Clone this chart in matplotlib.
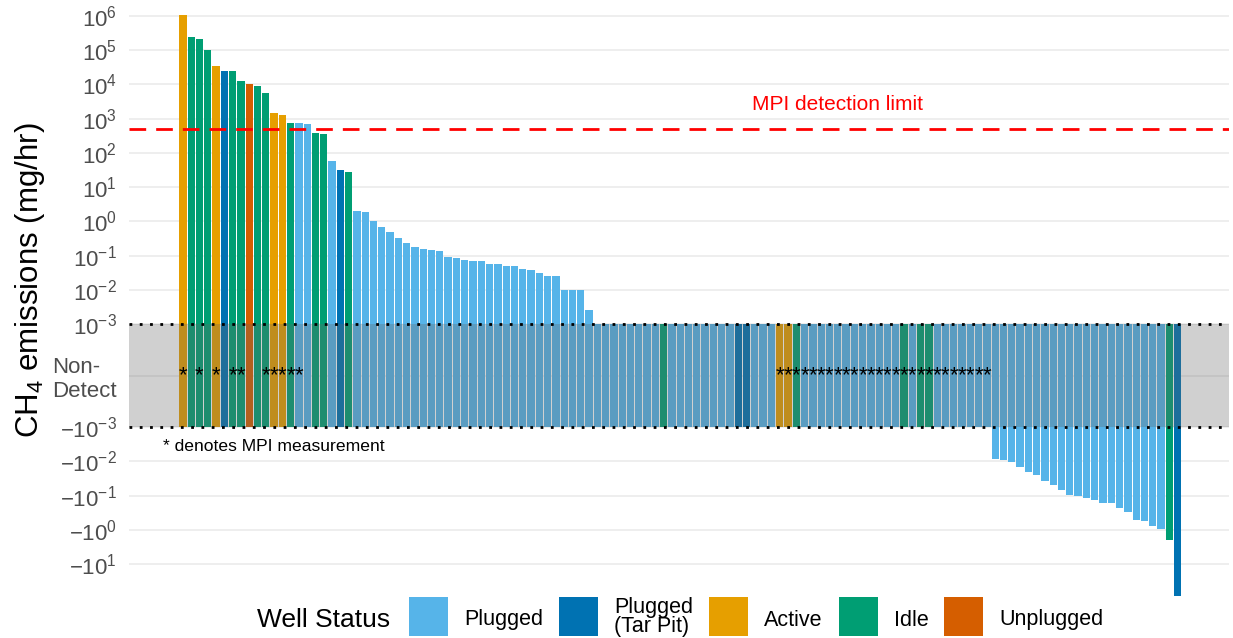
import numpy as np
import matplotlib.pyplot as plt
from matplotlib.patches import Rectangle

plt.rcParams["font.family"] = ["Liberation Sans", "DejaVu Sans"]
plt.rcParams["mathtext.fontset"] = "custom"
plt.rcParams["mathtext.rm"] = "Liberation Sans"
plt.rcParams["mathtext.it"] = "Liberation Sans:italic"
plt.rcParams["mathtext.bf"] = "Liberation Sans:bold"

# CH4 emission per well (mg/hr), sorted; None = non-detect
emissions = [
    1.08e6, 2.4e5, 2.05e5, 1.0e5, 3.5e4, 2.5e4, 2.5e4, 1.26e4, 1.05e4, 8.7e3,
    5.7e3, 1.5e3, 1.3e3, 760, 760, 710, 390, 350, 60, 32,
    28, 2.05, 1.9, 1.05, 0.67, 0.49, 0.33, 0.23, 0.18, 0.16,
    0.145, 0.14, 0.093, 0.085, 0.076, 0.069, 0.069, 0.056, 0.056, 0.051,
    0.051, 0.041, 0.038, 0.031, 0.025, 0.025, 0.0098, 0.0098, 0.0098, 0.0026,
    None, None, None, None, None, None, None, None, None, None,
    None, None, None, None, None, None, None, None, None, None,
    None, None, None, None, None, None, None, None, None, None,
    None, None, None, None, None, None, None, None, None, None,
    None, None, None, None, None, None, None, None,
    -0.0085, -0.0089, -0.0105, -0.015, -0.021, -0.025, -0.037, -0.050, -0.070, -0.098,
    -0.105, -0.12, -0.13, -0.16, -0.16, -0.23, -0.29, -0.50, -0.55, -0.75,
    -0.93, -2.0, -84,
]

# well status code per bar (P plugged, T tar pit, A active, I idle, U unplugged)
status = (
    "AIIIATIIUI" "IAAIPPIIPT" "IPPPPPPPPP" "PPPPPPPPPP" "PPPPPPPPPP"
    "PPPPPPPPIP" "PPPPPPPTTP" "PPAAIPPPPP" "PPPPPPPIPI" "IPPPPPPPPP"
    "PPPPPPPPPP" "PPPPPPPPPI" "T"
)

# bars measured with MPI
mpi_bars = [0, 2, 4, 6, 7, 10, 11, 12, 13, 14] + list(range(72, 98))

status_codes = ["P", "T", "A", "I", "U"]
status_labels = ["Plugged", "Plugged\n(Tar Pit)", "Active", "Idle", "Unplugged"]
status_colors = ["#56B4E9", "#0072B2", "#E69F00", "#009E73", "#D55E00"]

mpi_limit = 500
ND = 1e-3
HALF = 1.5  # half height of the non-detect band, in decades


def forward(y):
    y = np.asarray(y, dtype=float)
    a = np.abs(y)
    logpart = np.sign(y) * (np.log10(np.maximum(a, ND)) - np.log10(ND) + HALF)
    return np.where(a >= ND, logpart, y / ND * HALF)


def inverse(t):
    t = np.asarray(t, dtype=float)
    a = np.abs(t)
    powpart = np.sign(t) * 10 ** (np.minimum(a, 40) - HALF + np.log10(ND))
    return np.where(a >= HALF, powpart, t / HALF * ND)


W, H = 1233, 638
fig = plt.figure(figsize=(W / 100, H / 100), dpi=100)
ax = fig.add_axes([129 / W, 1 - 598.5 / H, 1100 / W, 588.7 / H])
ax.set_yscale("function", functions=(forward, inverse))

x = np.arange(len(emissions))
color_map = dict(zip(status_codes, status_colors))
bottoms, tops = [], []
for v in emissions:
    if v is None:
        bottoms.append(-ND)
        tops.append(ND)
    elif v > 0:
        bottoms.append(-ND)
        tops.append(v)
    else:
        bottoms.append(ND)
        tops.append(v)
bottoms = np.array(bottoms)
tops = np.array(tops)
ax.bar(x, tops - bottoms, bottom=bottoms, width=0.88,
       color=[color_map[s] for s in status], linewidth=0, zorder=2)

# non-detect band
ax.axhspan(-ND, ND, color="#666666", alpha=0.3, lw=0, zorder=3)
for yy in (ND, -ND):
    ax.axhline(yy, color="black", lw=2, ls=(0, (1, 2.7)), zorder=5)

for i in mpi_bars:
    ax.text(i, 0, "*", ha="center", va="center", fontsize=16, zorder=6)

ax.axhline(mpi_limit, color="red", lw=2, ls=(0, (6, 3.6)), zorder=4)
ax.text(79, 1800, "MPI detection limit", color="red", fontsize=15,
        ha="center", va="baseline")
ax.text(-2.4, -0.005, "* denotes MPI measurement", fontsize=12.6,
        ha="left", va="baseline")

pos_exp = [6, 5, 4, 3, 2, 1, 0, -1, -2, -3]
neg_exp = [-3, -2, -1, 0, 1]
ticks = [10.0 ** e for e in pos_exp] + [0] + [-(10.0 ** e) for e in neg_exp]
labels = ([f"$10^{{{e}}}$" for e in pos_exp] + ["Non-\nDetect"]
          + [f"$-10^{{{e}}}$" for e in neg_exp])
ax.set_yticks(ticks, labels)
ax.yaxis.get_major_ticks()[len(pos_exp)].label1.set_multialignment("left")
ax.tick_params(axis="y", length=0, pad=8.5, labelsize=16, labelcolor="#4D4D4D")
ax.set_xticks([])
ax.set_xlim(-6.5, 126.2)
ax.set_ylim(-100, 1.5e6)
ax.grid(axis="y", color="#EBEBEB", lw=1.2, zorder=0)
ax.set_axisbelow(True)
for sp in ax.spines.values():
    sp.set_visible(False)

fig.text(30 / W, 1 - 280 / H, "CH$_4$ emissions (mg/hr)", rotation=90,
         fontsize=22.5, ha="center", va="center")

# legend along the bottom
renderer = fig.canvas.get_renderer()
fig.text(257 / W, 1 - 627 / H, "Well Status", fontsize=19, ha="left", va="baseline")
kx = 409
key = 39
for label, c in zip(status_labels, status_colors):
    fig.add_artist(Rectangle((kx / W, 1 - 636 / H), key / W, key / H,
                             transform=fig.transFigure, color=c, lw=0))
    multiline = "\n" in label
    t = fig.text((kx + key + 16) / W, 1 - (617 if multiline else 620) / H, label,
                 fontsize=15.5, ha="left", va="center",
                 linespacing=0.85 if multiline else 1.0)
    kx = kx + key + 16 + t.get_window_extent(renderer).width + 16

fig.savefig("out.png", dpi=100)
